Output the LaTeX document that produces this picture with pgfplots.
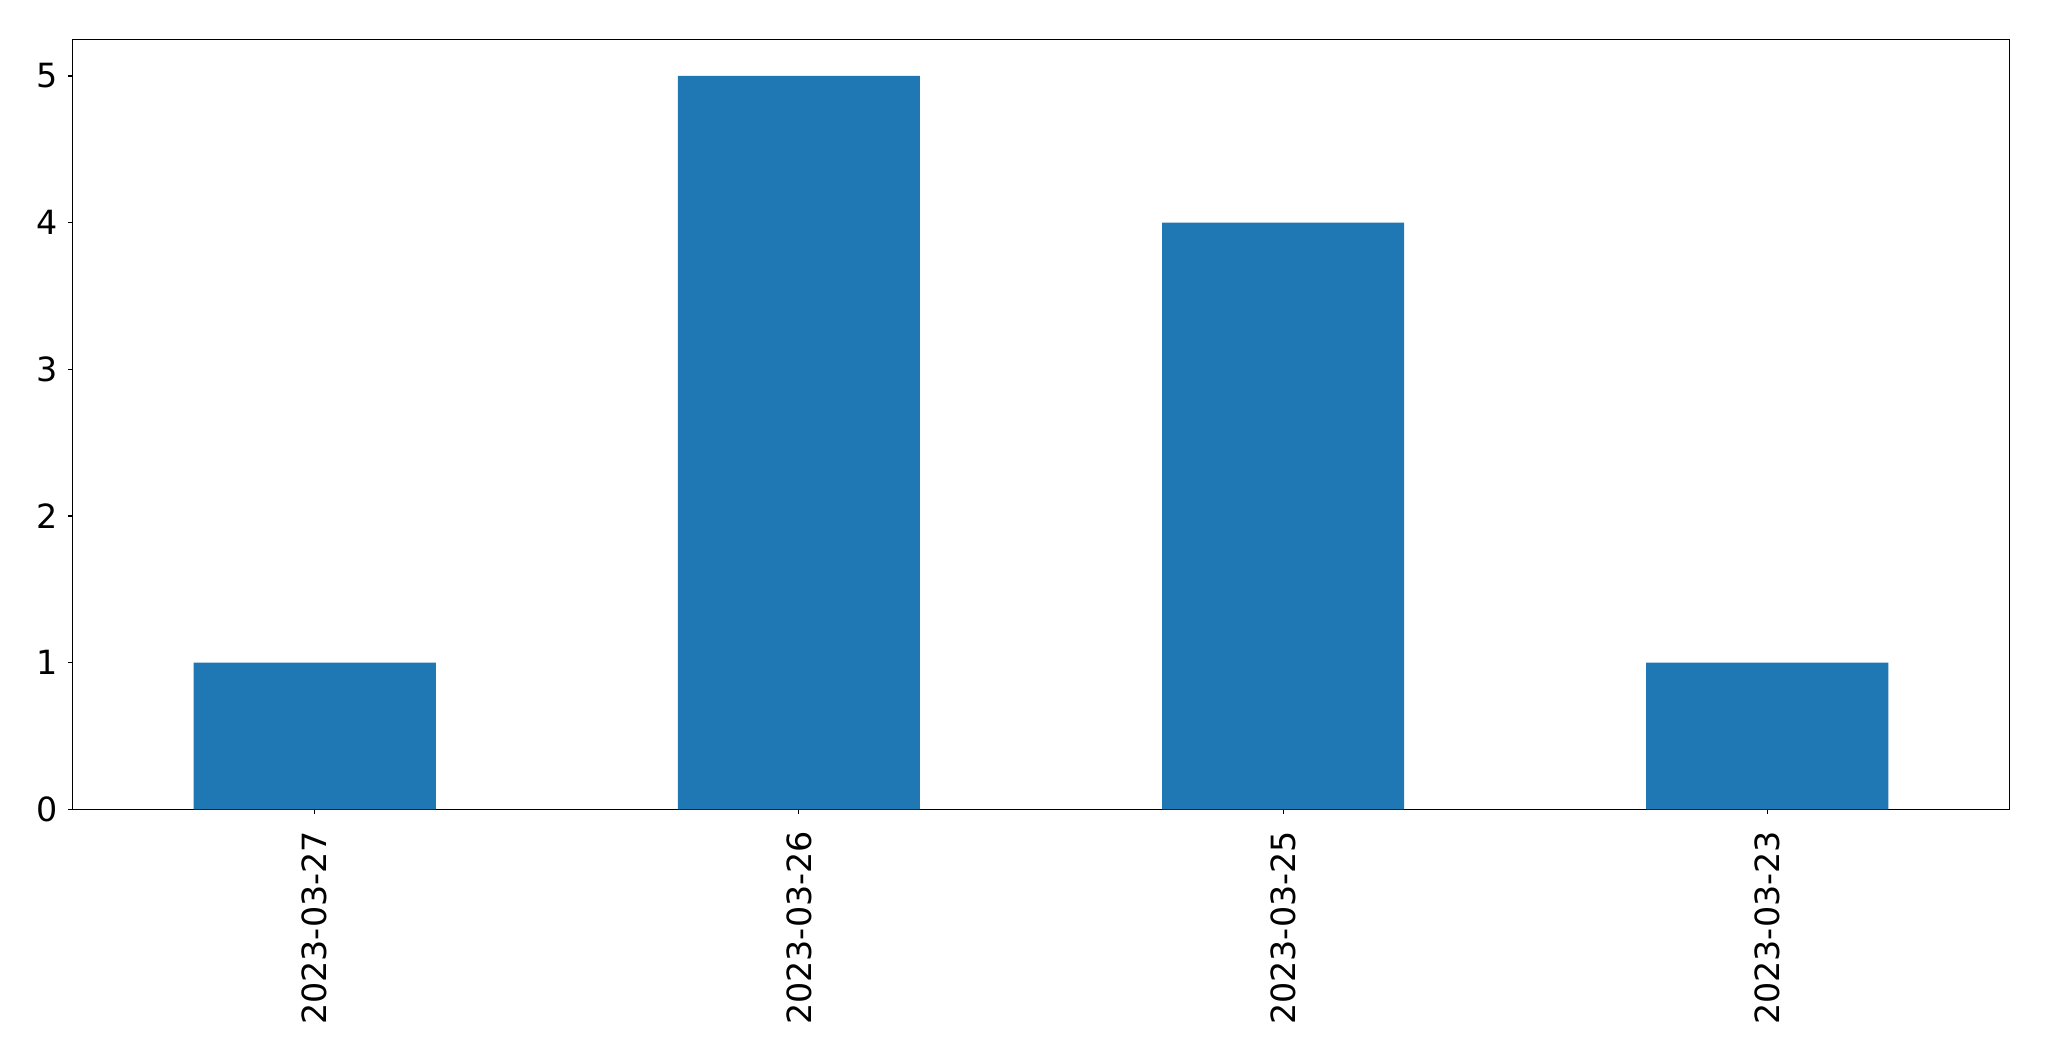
\documentclass[border=0pt]{standalone}
\usepackage{pgfplots}
\pgfplotsset{compat=1.18}
\usepackage{fontspec}
\setmainfont{DejaVu Sans}
\definecolor{barblue}{HTML}{1F77B4}
\begin{document}
\begin{tikzpicture}
\useasboundingbox (0,0) rectangle (1475.28bp,763.92bp);
\begin{axis}[
 at={(52.34bp,181.22bp)}, anchor=south west,
 scale only axis, width=1394.4bp, height=554.4bp,
 xmin=-0.5, xmax=3.5, ymin=0, ymax=5.25,
 xtick={0,1,2,3},
 xticklabels={2023-03-27,2023-03-26,2023-03-25,2023-03-23},
 x tick label style={rotate=90, anchor=east, inner sep=0pt},
 y tick label style={inner sep=0pt},
 xticklabel shift=12bp,
 yticklabel shift=7bp,
 ytick={0,1,2,3,4,5},
 tick align=outside, tick pos=left,
 major tick length=3.5bp,
 every tick/.style={black, line width=0.8bp},
 axis line style={line width=0.8bp},
 ticklabel style={font=\fontsize{24bp}{28bp}\selectfont},
 /pgf/number format/assume math mode=true,
]
\addplot[ybar, bar width=0.5, fill=barblue, draw=none] coordinates {(0,1) (1,5) (2,4) (3,1)};
\end{axis}
\end{tikzpicture}
\end{document}
